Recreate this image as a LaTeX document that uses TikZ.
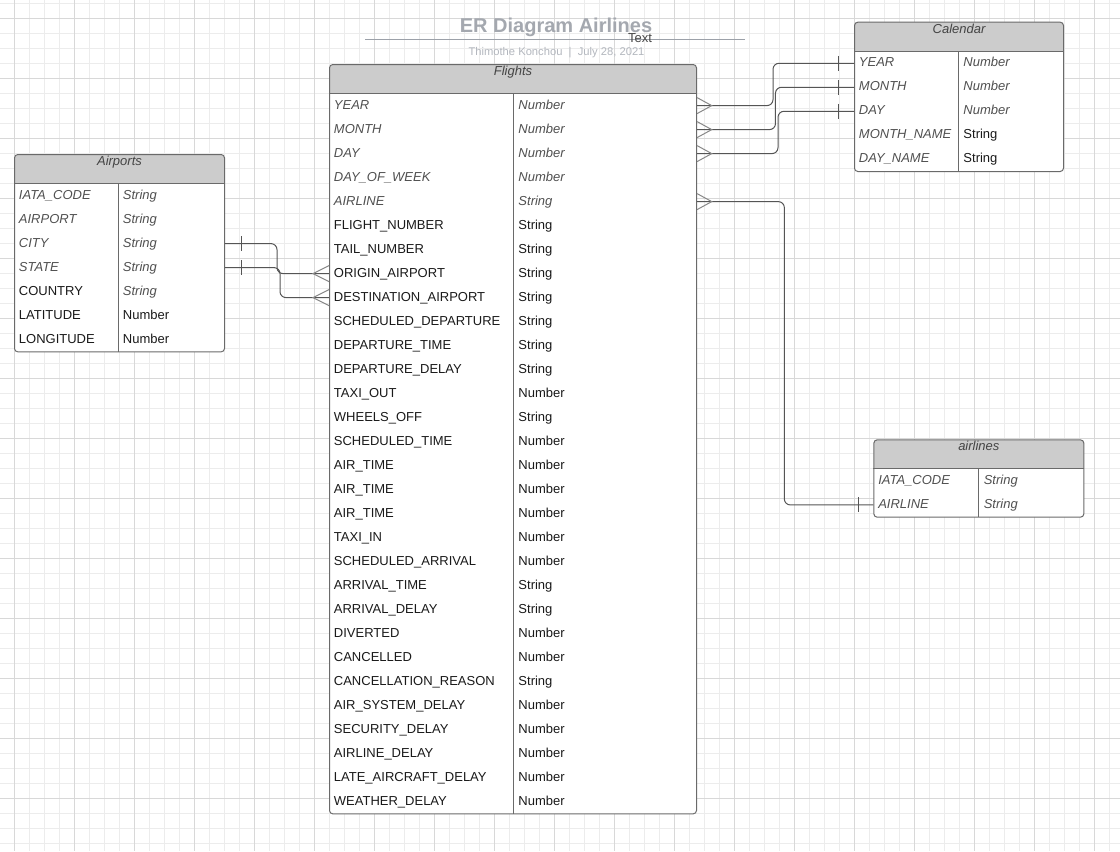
\documentclass[tikz,border=0pt]{standalone}
\usepackage{fontspec}
\setmainfont{Liberation Sans}
\usetikzlibrary{calc}
\definecolor{gridminor}{HTML}{ECECEC}
\definecolor{gridmajor}{HTML}{D8D8D8}
\definecolor{hdrfill}{HTML}{CCCCCC}
\definecolor{tborder}{HTML}{6A6A6A}
\definecolor{relline}{HTML}{555555}
\definecolor{crowcol}{HTML}{888888}
\definecolor{ittext}{HTML}{505050}
\definecolor{rgtext}{HTML}{1A1A1A}
\definecolor{hdrtext}{HTML}{444444}
\definecolor{titlegray}{HTML}{A4A8AF}
\definecolor{subgray}{HTML}{B3B7BE}
\definecolor{tline}{HTML}{9CA1A9}
\newcommand\ercrow[2]{\draw[crow] ([yshift=6pt]#1) -- ([xshift=#2]#1) -- ([yshift=-6pt]#1);}
\newcommand\erbar[2]{\draw[onebar] ([xshift=#2,yshift=5.6pt]#1) -- ([xshift=#2,yshift=-5.6pt]#1);}
\tikzset{
  ertable/.style={draw=tborder, fill=white, line width=0.75pt, rounded corners=2.5pt,
    inner sep=0pt, anchor=north west,
    path picture={\fill[hdrfill, sharp corners] (path picture bounding box.north west) rectangle ([yshift=-22pt]path picture bounding box.north east);}},
  hdrlabel/.style={anchor=base, inner sep=0pt, text=hdrtext, font=\itshape\fontsize{9.75}{11.7}\selectfont},
  cellbase/.style={anchor=north west, inner xsep=3.5pt, inner ysep=0pt, minimum height=18pt,
    text height=5.5pt, text depth=0pt, align=left, font=\fontsize{9.75}{11.7}\selectfont},
  fi/.style={text=ittext, font=\itshape\fontsize{9.75}{11.7}\selectfont},
  fr/.style={text=rgtext},
  tabline/.style={draw=tborder, line width=0.75pt},
  rel/.style={draw=relline, line width=0.75pt, rounded corners=4.5pt},
  crow/.style={draw=crowcol, line width=0.75pt},
  onebar/.style={draw=relline, line width=0.75pt},
  gminor/.style={draw=gridminor, line width=0.75pt},
  gmajor/.style={draw=gridmajor, line width=0.75pt}
}
\begin{document}
\begin{tikzpicture}[x=0.75pt, y=-0.75pt]
\useasboundingbox (0,0) rectangle (1120,851);
\fill[white] (0,0) rectangle (1120,851);
% grid
\foreach \k in {0,...,75} \draw[gminor] ({-1+15*\k},0) -- ({-1+15*\k},851);
\foreach \k in {0,...,56} \draw[gminor] (0,{3.333+15*\k}) -- (1120,{3.333+15*\k});
\foreach \k in {0,...,18} \draw[gmajor] ({14+60*\k},0) -- ({14+60*\k},851);
\foreach \k in {0,...,13} \draw[gmajor] (0,{18.333+60*\k}) -- (1120,{18.333+60*\k});

% title block
\node[anchor=base, inner sep=0pt, text=titlegray, font=\bfseries\fontsize{15}{18}\selectfont] (title) at (556,32.7) {ER Diagram Airlines};
\coordinate (tla) at (365,39.3);
\coordinate (tlb) at (745,39.3);
\draw[tline, line width=1pt] (tla) -- (tlb);
\node[anchor=base, inner sep=0pt, text=rgtext!80, font=\fontsize{9.75}{11.7}\selectfont] (textlbl) at (640,42.7) {Text};
\node[anchor=base, inner sep=0pt, text=subgray, font=\fontsize{8.4}{10}\selectfont] (subtitle) at (556.5,55) {Thimothe Konchou\ \ |\ \ July 28, 2021};

% Flights
\node[ertable, minimum width=275.25pt, minimum height=562pt] (flights) at (329,64) {};
\node[hdrlabel] (flights-title) at ([yshift=-8.25pt]flights.north) {Flights};
\foreach [count=\i from 0] \n/\t/\a/\b in {
 YEAR/Number/fi/fi, MONTH/Number/fi/fi, DAY/Number/fi/fi, DAY\_OF\_WEEK/Number/fi/fi,
 AIRLINE/String/fi/fi, FLIGHT\_NUMBER/String/fr/fr, TAIL\_NUMBER/String/fr/fr,
 ORIGIN\_AIRPORT/String/fr/fr, DESTINATION\_AIRPORT/String/fr/fr,
 SCHEDULED\_DEPARTURE/String/fr/fr, DEPARTURE\_TIME/String/fr/fr,
 DEPARTURE\_DELAY/String/fr/fr, TAXI\_OUT/Number/fr/fr, WHEELS\_OFF/String/fr/fr,
 SCHEDULED\_TIME/Number/fr/fr, AIR\_TIME/Number/fr/fr, AIR\_TIME/Number/fr/fr,
 AIR\_TIME/Number/fr/fr, TAXI\_IN/Number/fr/fr, SCHEDULED\_ARRIVAL/Number/fr/fr,
 ARRIVAL\_TIME/String/fr/fr, ARRIVAL\_DELAY/String/fr/fr, DIVERTED/Number/fr/fr,
 CANCELLED/Number/fr/fr, CANCELLATION\_REASON/String/fr/fr,
 AIR\_SYSTEM\_DELAY/Number/fr/fr, SECURITY\_DELAY/Number/fr/fr,
 AIRLINE\_DELAY/Number/fr/fr, LATE\_AIRCRAFT\_DELAY/Number/fr/fr,
 WEATHER\_DELAY/Number/fr/fr} {
  \node[cellbase, \a, text width=131pt] (fl-n\i) at (329,{93.333+24*\i}) {\n};
  \node[cellbase, \b, text width=130.25pt] (fl-t\i) at (fl-n\i.north east) {\t};
}
\draw[tabline] (fl-n0.north west) -- (fl-t0.north east);
\draw[tabline] (fl-t0.north west) -- (fl-t29.south west);

% Airports
\node[ertable, minimum width=157.5pt, minimum height=148pt] (airports) at (14,154) {};
\node[hdrlabel] (airports-title) at ([yshift=-8.6pt]airports.north) {Airports};
\foreach [count=\i from 0] \n/\t/\a/\b in {
 IATA\_CODE/String/fi/fi, AIRPORT/String/fi/fi, CITY/String/fi/fi, STATE/String/fi/fi,
 COUNTRY/String/fr/fi, LATITUDE/Number/fr/fr, LONGITUDE/Number/fr/fr} {
  \node[cellbase, \a, text width=70.6pt] (ap-n\i) at (14,{183.333+24*\i}) {\n};
  \node[cellbase, \b, text width=72.9pt] (ap-t\i) at (ap-n\i.north east) {\t};
}
\draw[tabline] (ap-n0.north west) -- (ap-t0.north east);
\draw[tabline] (ap-t0.north west) -- (ap-t6.south west);

% Calendar
\node[ertable, minimum width=156.75pt, minimum height=112pt] (calendar) at (854,21.667) {};
\node[hdrlabel] (calendar-title) at ([yshift=-8.6pt]calendar.north) {Calendar};
\foreach [count=\i from 0] \n/\t/\a/\b in {
 YEAR/Number/fi/fi, MONTH/Number/fi/fi, DAY/Number/fi/fi,
 MONTH\_NAME/String/fi/fr, DAY\_NAME/String/fi/fr} {
  \node[cellbase, \a, text width=71pt] (cal-n\i) at (854,{51+24*\i}) {\n};
  \node[cellbase, \b, text width=71.75pt] (cal-t\i) at (cal-n\i.north east) {\t};
}
\draw[tabline] (cal-n0.north west) -- (cal-t0.north east);
\draw[tabline] (cal-t0.north west) -- (cal-t4.south west);

% airlines
\node[ertable, minimum width=157.5pt, minimum height=58pt] (airlines) at (873.333,439.333) {};
\node[hdrlabel] (airlines-title) at ([yshift=-8.6pt]airlines.north) {airlines};
\foreach [count=\i from 0] \n/\t/\a/\b in {
 IATA\_CODE/String/fi/fi, AIRLINE/String/fi/fi} {
  \node[cellbase, \a, text width=71.75pt] (al-n\i) at (873.333,{468.667+24*\i}) {\n};
  \node[cellbase, \b, text width=71.75pt] (al-t\i) at (al-n\i.north east) {\t};
}
\draw[tabline] (al-n0.north west) -- (al-t0.north east);
\draw[tabline] (al-t0.north west) -- (al-t1.south west);

% relationships
\draw[rel] (ap-t2.east) -| ([xshift=-39pt]fl-n7.west) -- (fl-n7.west);
\draw[rel] (ap-t3.east) -| ([xshift=-36.75pt]fl-n8.west) -- (fl-n8.west);
\draw[rel] (fl-t0.east) -| ([xshift=-60.75pt]cal-n0.west) -- (cal-n0.west);
\draw[rel] (fl-t1.east) -| ([xshift=-58.9pt]cal-n1.west) -- (cal-n1.west);
\draw[rel] (fl-t2.east) -| ([xshift=-57pt]cal-n2.west) -- (cal-n2.west);
\draw[rel] (fl-t4.east) -| ([xshift=-66.75pt]al-n1.west) -- (al-n1.west);

\ercrow{fl-n7.west}{-12pt}
\ercrow{fl-n8.west}{-12pt}
\ercrow{fl-t0.east}{11pt}
\ercrow{fl-t1.east}{11pt}
\ercrow{fl-t2.east}{11pt}
\ercrow{fl-t4.east}{11pt}
\erbar{ap-t2.east}{12pt}
\erbar{ap-t3.east}{12pt}
\erbar{cal-n0.west}{-12pt}
\erbar{cal-n1.west}{-12pt}
\erbar{cal-n2.west}{-12pt}
\erbar{al-n1.west}{-11pt}
\end{tikzpicture}
\end{document}
